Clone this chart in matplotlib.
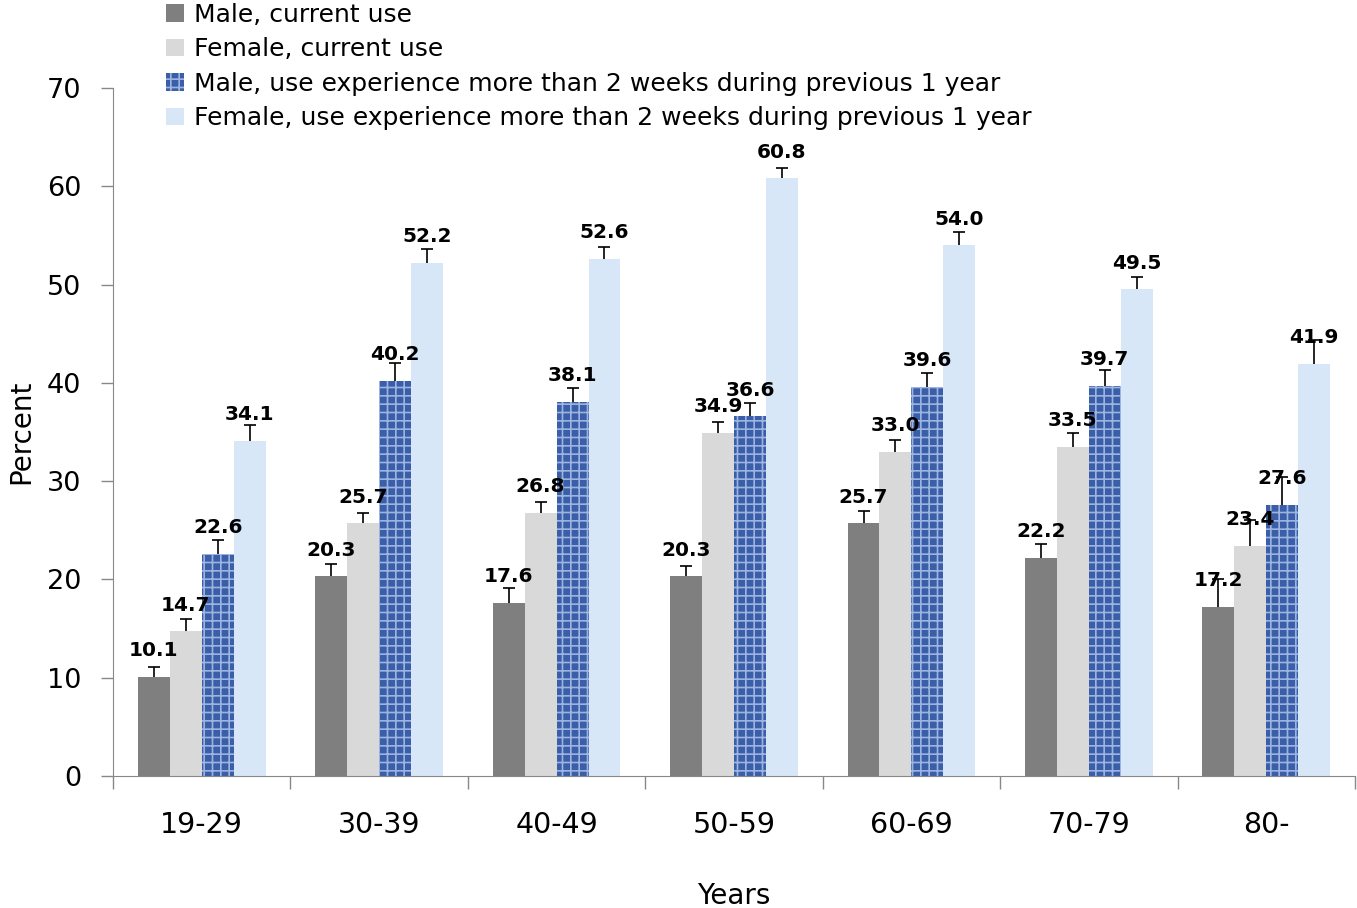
import numpy as np
import matplotlib.pyplot as plt

# Data
age_groups = ['19-29', '30-39', '40-49', '50-59', '60-69', '70-79', '80-']
male_current = [10.1, 20.3, 17.6, 20.3, 25.7, 22.2, 17.2]
female_current = [14.7, 25.7, 26.8, 34.9, 33.0, 33.5, 23.4]
male_exp = [22.6, 40.2, 38.1, 36.6, 39.6, 39.7, 27.6]
female_exp = [34.1, 52.2, 52.6, 60.8, 54.0, 49.5, 41.9]

# upper error bars (estimated)
male_current_err = [1.0, 1.3, 1.5, 1.1, 1.3, 1.4, 2.8]
female_current_err = [1.3, 1.1, 1.1, 1.1, 1.2, 1.4, 2.6]
male_exp_err = [1.4, 1.8, 1.4, 1.3, 1.4, 1.6, 2.8]
female_exp_err = [1.6, 1.4, 1.2, 1.1, 1.3, 1.3, 2.5]

series_names = ['Male, current use', 'Female, current use',
                'Male, use experience more than 2 weeks during previous 1 year',
                'Female, use experience more than 2 weeks during previous 1 year']

plt.rcParams['font.family'] = ['DejaVu Sans']
plt.rcParams['hatch.linewidth'] = 1.2

fig = plt.figure(figsize=(13.57, 9.08), dpi=100)
ax = fig.add_axes([0.0833, 0.1454, 0.9152, 0.7577])

x = np.arange(len(age_groups))
w = 0.18
offsets = [-1.5 * w, -0.5 * w, 0.5 * w, 1.5 * w]
values = [male_current, female_current, male_exp, female_exp]
errors = [male_current_err, female_current_err, male_exp_err, female_exp_err]
faces = ['#7f7f7f', '#d9d9d9', '#3b5ea8', '#d8e7f8']
hatches = [None, None, '++', None]
hatch_cols = ['#7f7f7f', '#d9d9d9', '#9db4e0', '#d8e7f8']

handles = []
for vals, errs, off, fc, hc, ht, name in zip(values, errors, offsets, faces,
                                             hatch_cols, hatches, series_names):
    xs = x + off
    tops = np.array(vals) + np.array(errs)
    bars = ax.bar(xs, vals, w, color=fc, edgecolor=hc, hatch=ht,
                  linewidth=0, label=name)
    handles.append(bars)
    # upper error bar only
    ax.vlines(xs, vals, tops, color='black', lw=1.2)
    ax.plot(xs, tops, linestyle='none', marker='_', ms=9, mew=1.2, color='black')
    for xi, v in zip(xs, vals):
        ax.annotate(f'{v:.1f}', (xi, v), xytext=(0, 12), textcoords='offset points',
                    ha='center', va='bottom', fontsize=14.5, fontweight='bold')

ax.set_xlim(-0.5, len(age_groups) - 0.5)
ax.set_ylim(0, 70)
ax.set_yticks(range(0, 71, 10))
ax.tick_params(axis='y', labelsize=19.5, length=9, width=1, color='#888888', pad=14)

ax.set_xticks(np.arange(len(age_groups) + 1) - 0.5)
ax.set_xticklabels([])
ax.tick_params(axis='x', which='major', length=9, width=1, color='#888888')
ax.set_xticks(x, minor=True)
ax.set_xticklabels(age_groups, minor=True)
ax.tick_params(axis='x', which='minor', length=0, labelsize=20.5, pad=25)

for s in ['top', 'right']:
    ax.spines[s].set_visible(False)
for s in ['left', 'bottom']:
    ax.spines[s].set_color('#888888')

ax.set_ylabel('Percent', fontsize=20, labelpad=8)
ax.set_xlabel('Years', fontsize=20, labelpad=31)

fig.legend(handles=handles, loc='upper left', bbox_to_anchor=(0.115, 1.008),
           frameon=False, fontsize=18, handlelength=0.7, handleheight=0.7,
           handletextpad=0.4, labelspacing=0.42, borderaxespad=0)

fig.savefig('out.png', dpi=100)
